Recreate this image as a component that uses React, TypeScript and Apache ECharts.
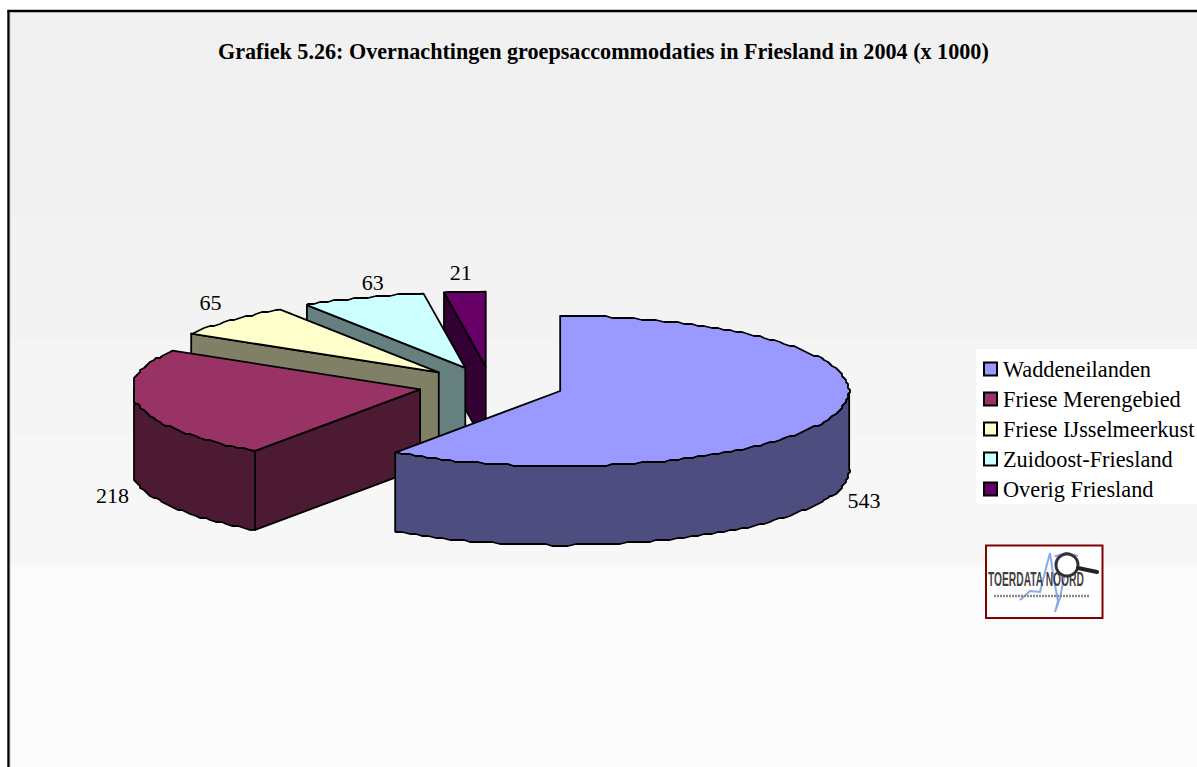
import React, { useEffect, useRef } from "react";
import * as echarts from "echarts";

const titleText = "Grafiek 5.26: Overnachtingen groepsaccommodaties in Friesland in 2004 (x 1000)";
const categories = ["Waddeneilanden", "Friese Merengebied", "Friese IJsselmeerkust", "Zuidoost-Friesland", "Overig Friesland"];
const values = [543, 218, 65, 63, 21];
const topColors = ["#9999FF", "#993366", "#FFFFCC", "#CCFFFF", "#660066"];
const sideColors = ["#4D4D80", "#4D1A33", "#808066", "#668080", "#330033"];
// label offset from the slice's rim point (pixels)
const labelOffsets = [[28, 8], [-25, 11], [-20, -18], [10, -15], [-4, -19]];

const FONT = '"Liberation Serif", "Times New Roman", serif';
const CX = 491, CY = 385.4, RX = 289, RY = 75, DEPTH = 79, EXPLODE = 72.5, MIN_X = 134, GRID = 2;
const total = values.reduce((a, b) => a + b, 0);
const rad = (d: number) => (d * Math.PI) / 180;
const snap = (v: number) => Math.round(v / GRID) * GRID;

function sliceChildren(i: number) {
  const start = (values.slice(0, i).reduce((a, b) => a + b, 0) / total) * 360;
  const end = start + (values[i] / total) * 360;
  const mid = (start + end) / 2;
  const ax = CX + Math.sin(rad(mid)) * EXPLODE;
  const ay = CY - Math.cos(rad(mid)) * EXPLODE * (RY / RX);
  const rim = (d: number, dz = 0): number[] => [Math.max(MIN_X, ax + Math.sin(rad(d)) * RX), ay - Math.cos(rad(d)) * RY + dz];
  const rimS = (d: number, dz = 0): number[] => { const p = rim(d, dz); return [snap(p[0]), snap(p[1])]; };
  const stroke = { stroke: "#000", lineWidth: 1.8, lineJoin: "round" as const };
  const side = { fill: sideColors[i], ...stroke };
  const kids: any[] = [];
  const poly = (points: number[][], style: any) => kids.push({ type: "polygon", shape: { points }, style });

  const radialWall = (d: number) =>
    poly([[ax, ay], rim(d), rim(d, DEPTH), [ax, ay + DEPTH]], side);
  if (start > 180 && start < 360) radialWall(start);
  if (end > 0 && end < 180) radialWall(end);

  const a0 = Math.max(start, 90), a1 = Math.min(end, 270);
  if (a1 > a0) {
    const upper: number[][] = [rim(a0)], lower: number[][] = [rim(a0, DEPTH)];
    for (let d = Math.ceil(a0 / 1.5) * 1.5; d < a1; d += 1.5) { upper.push(rimS(d)); lower.unshift(rimS(d, DEPTH)); }
    upper.push(rim(a1)); lower.unshift(rim(a1, DEPTH));
    poly([...upper, ...lower], side);
  }
  const top: number[][] = [[ax, ay], rim(start)];
  for (let d = Math.ceil(start / 1.5) * 1.5; d < end; d += 1.5) top.push(rimS(d));
  top.push(rim(end));
  poly(top, { fill: topColors[i], ...stroke });

  const front = mid > 90 && mid < 270;
  const p = rim(mid, front ? DEPTH : 0);
  kids.push({
    type: "text",
    style: {
      text: String(values[i]),
      x: p[0] + labelOffsets[i][0],
      y: p[1] + labelOffsets[i][1],
      fill: "#000",
      font: `22px ${FONT}`,
      align: "center",
      verticalAlign: "middle",
    },
  });
  return kids;
}

const bands: [number, number, string][] = [
  [10, 216, "#f1f1f1"],
  [216, 339, "#f3f3f3"],
  [339, 435, "#f5f5f5"],
  [435, 565, "#f7f7f7"],
  [565, 767, "#fbfbfb"],
];

function graphics() {
  const els: any[] = bands.map(([y0, y1, fill]) => ({
    type: "rect", z: 0, silent: true,
    shape: { x: 10, y: y0, width: 1187, height: y1 - y0 }, style: { fill },
  }));
  els.push({ type: "line", z: 1, shape: { x1: 8.5, y1: 11, x2: 8.5, y2: 767 }, style: { stroke: "#000", lineWidth: 2.4 } });
  els.push({ type: "line", z: 1, shape: { x1: 7.3, y1: 11, x2: 1197, y2: 11 }, style: { stroke: "#000", lineWidth: 2.4 } });
  els.push({ type: "line", z: 1, shape: { x1: 10.3, y1: 12, x2: 10.3, y2: 767 }, style: { stroke: "#cfcfcf", lineWidth: 0.8 } });
  // logo
  els.push({
    type: "group", z: 10,
    children: [
      { type: "rect", shape: { x: 986, y: 545.5, width: 116.5, height: 72.5 }, style: { fill: "#fefefe", stroke: "#800000", lineWidth: 2 } },
      { type: "polyline", shape: { points: [[1020, 600], [1030, 591], [1040, 592], [1046, 568], [1050, 553], [1054, 580], [1058, 601], [1055, 612], [1060, 598], [1064, 578], [1068, 562], [1056, 556], [1066, 553], [1078, 556]] }, style: { stroke: "#8aa8ea", fill: "none", lineWidth: 2 } },
      { type: "text", style: { text: "TOERDATA NOORD", x: 988, y: 579.5, fill: "#1a1a1a", font: 'bold 20px "Liberation Sans"', verticalAlign: "middle", opacity: 0.85 }, scaleX: 0.513, originX: 988, originY: 579.5 },
      { type: "line", shape: { x1: 994, y1: 596, x2: 1090, y2: 596 }, style: { stroke: "#8a8a8a", lineWidth: 2.4, lineDash: [2, 1] } },
      { type: "circle", shape: { cx: 1067, cy: 565, r: 11 }, style: { fill: "#ffffff", stroke: "#333", lineWidth: 3 } },
      { type: "line", shape: { x1: 1078, y1: 568, x2: 1097, y2: 572 }, style: { stroke: "#222", lineWidth: 4, lineCap: "round" } },
    ],
  });
  return els;
}

export default function App() {
  const ref = useRef<HTMLDivElement>(null);
  useEffect(() => {
    document.body.style.margin = "0";
    document.documentElement.style.overflow = "hidden";
    const chart = echarts.init(ref.current!, undefined, { renderer: "svg" });
    chart.setOption({
      animation: false,
      backgroundColor: "#ffffff",
      title: {
        text: titleText,
        left: 218,
        top: 40,
        padding: 0,
        textStyle: { fontFamily: FONT, fontSize: 22.15, fontWeight: "bold", color: "#000" },
      },
      legend: {
        data: categories,
        orient: "vertical",
        left: 976,
        top: 349,
        padding: [9, 3, 4, 7],
        itemGap: 8,
        itemWidth: 13,
        itemHeight: 13,
        icon: "rect",
        backgroundColor: "#ffffff",
        selectedMode: false,
        itemStyle: { borderColor: "#000", borderWidth: 2 },
        textStyle: { fontFamily: FONT, fontSize: 22.3, color: "#000", padding: [0, 0, 0, 1] },
      },
      graphic: graphics(),
      series: categories.map((name, i) => ({
        type: "custom",
        name,
        coordinateSystem: "none",
        silent: true,
        z: 2 + (categories.length - i),
        clip: false,
        itemStyle: { color: topColors[i] },
        data: [[values[i]]],
        renderItem: () => ({ type: "group", children: sliceChildren(i) }),
      })),
    });
    return () => chart.dispose();
  }, []);
  return <div ref={ref} style={{ position: "fixed", left: 0, top: 0, width: 1197, height: 767 }} />;
}
